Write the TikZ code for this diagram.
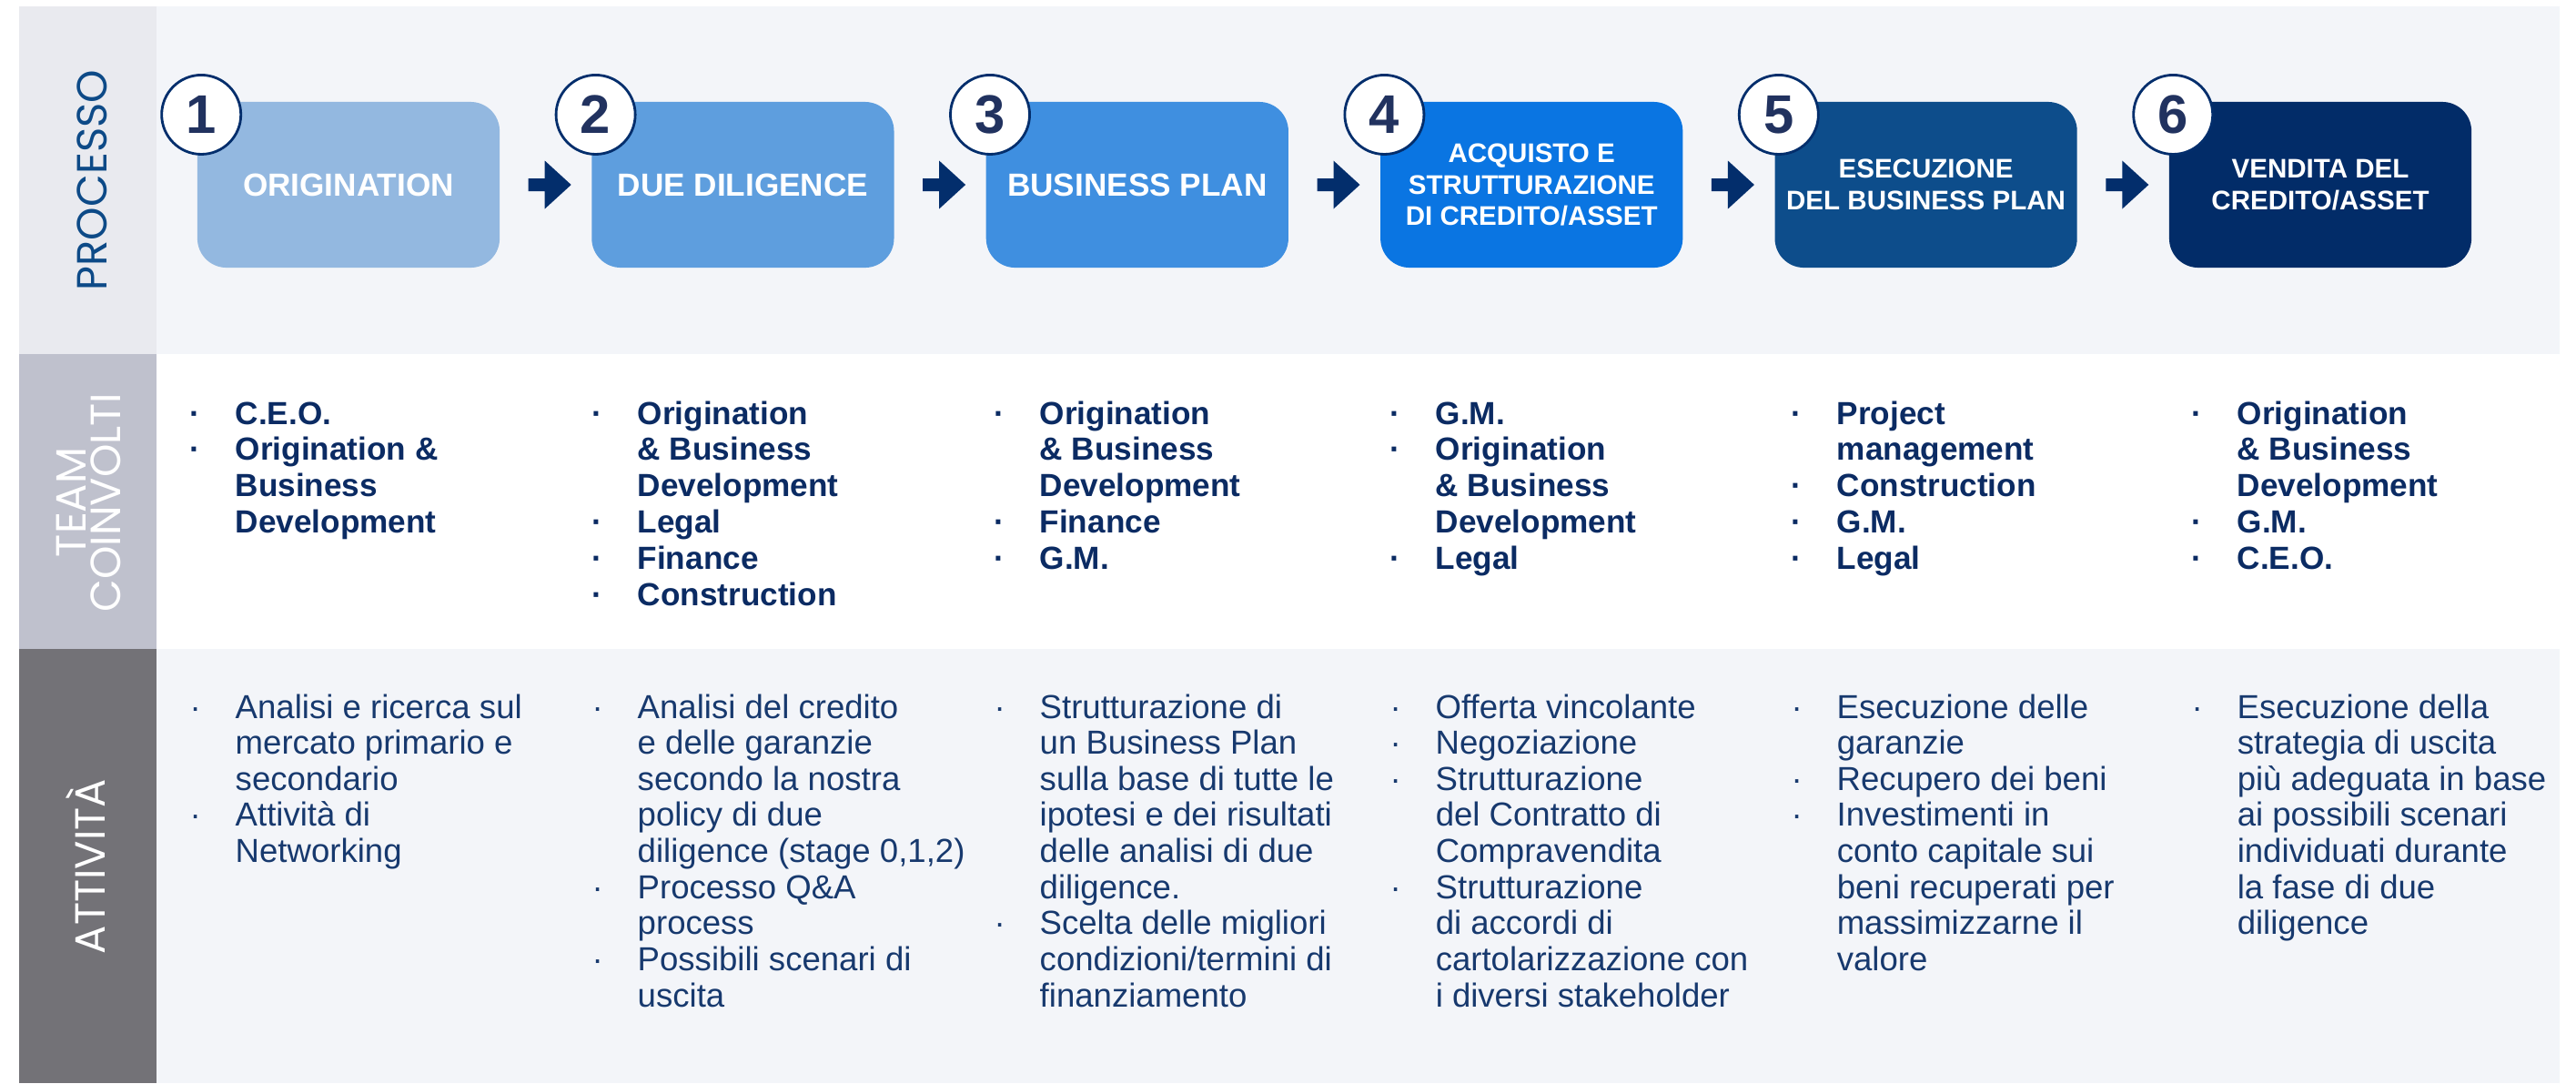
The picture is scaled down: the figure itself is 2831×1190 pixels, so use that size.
\documentclass[tikz,border=0pt]{standalone}
\usepackage{fontspec}
\setmainfont{Liberation Sans}
\newfontfamily\labelfont{Poppins}
\usetikzlibrary{calc}

\definecolor{rowlight}{HTML}{F3F5F9}
\definecolor{labone}{HTML}{E9EAEF}
\definecolor{labtwo}{HTML}{BFC1CD}
\definecolor{labthree}{HTML}{737277}
\definecolor{proctext}{HTML}{0D4A87}
\definecolor{stepA}{HTML}{93B8E0}
\definecolor{stepB}{HTML}{5E9EDE}
\definecolor{stepC}{HTML}{3F8FE0}
\definecolor{stepD}{HTML}{0A75E2}
\definecolor{stepE}{HTML}{0D4D8B}
\definecolor{stepF}{HTML}{022C68}
\definecolor{navy}{HTML}{032E6C}
\definecolor{numtext}{HTML}{21325F}
\definecolor{teamtext}{HTML}{0B2B63}
\definecolor{acttext}{HTML}{17396E}

% bulleted list: a narrow bullet column and a text column
\newenvironment{dotlist}{\begin{tabular}[t]{@{}p{0.5cm}@{}l@{}}}{\end{tabular}}
\newcommand\bl{·}

% block arrow placed midway between two step boxes
\newcommand\flowarrow[2]{%
  \fill[navy] ($(#1.east)!0.5!(#2.west)$) ++(-19,7) -- ++(18,0) -- ++(0,19.5)
    -- ++(29,-26.5) -- ++(-29,-26.5) -- ++(0,19.5) -- ++(-18,0) -- cycle;}

\begin{document}
\begin{tikzpicture}[x=0.01cm, y=-0.01cm,
  stepbox/.style={rounded corners=0.32cm, minimum width=3.32cm, minimum height=1.82cm,
    inner sep=0pt, text=white, align=center,
    font=\bfseries\fontsize{10}{11}\selectfont},
  smallstep/.style={font=\bfseries\fontsize{8.4}{9.85}\selectfont},
  numdisc/.style={circle, fill=white, draw=navy, line width=0.8pt, minimum size=0.87cm,
    inner sep=0pt, text=numtext, font=\bfseries\fontsize{17}{17}\selectfont},
  teamlist/.style={anchor=base west, inner sep=0pt,
    text=teamtext, font=\bfseries\fontsize{10}{11.35}\selectfont},
  actlist/.style={anchor=base west, inner sep=0pt,
    text=acttext, font=\fontsize{10.4}{11.27}\selectfont},
  rowlabel/.style={rotate=90, inner sep=0pt, font=\labelfont\fontsize{13.2}{10.8}\selectfont}]

\useasboundingbox (0,0) rectangle (2831,1190);

% row backgrounds and label column
\fill[labone]   (21,7)    rectangle (172,389);
\fill[rowlight] (172,7)   rectangle (2813,389);
\fill[labtwo]   (21,389)  rectangle (172,713);
\fill[white]    (172,389) rectangle (2813,713);
\fill[labthree] (21,713)  rectangle (172,1190);
\fill[rowlight] (172,713) rectangle (2813,1190);

% row labels
\node[rowlabel, text=proctext, anchor=base] (lproc) at (117,198) {PROCESSO};
\node[rowlabel, text=white, align=center] (lteam) at (97,552) {TEAM\\COINVOLTI};
\node[rowlabel, text=white, anchor=base] (latt) at (115,952) {ATTIVITÀ};

% process steps
\node[stepbox, fill=stepA] (b1) at (383,203)    {ORIGINATION};
\node[stepbox, fill=stepB] (b2) at (816.4,203)  {DUE DILIGENCE};
\node[stepbox, fill=stepC] (b3) at (1249.8,203) {BUSINESS PLAN};
\node[stepbox, smallstep, fill=stepD] (b4) at (1683.2,203) {ACQUISTO E\\STRUTTURAZIONE\\DI CREDITO/ASSET};
\node[stepbox, smallstep, fill=stepE] (b5) at (2116.6,203) {ESECUZIONE\\DEL BUSINESS PLAN};
\node[stepbox, smallstep, fill=stepF] (b6) at (2550,203)   {VENDITA DEL\\CREDITO/ASSET};

% step numbers
\foreach \i in {1,...,6}
  \node[numdisc] (n\i) at ([xshift=0.05cm, yshift=0.77cm]b\i.west) {\i};

% arrows between steps
\flowarrow{b1}{b2}
\flowarrow{b2}{b3}
\flowarrow{b3}{b4}
\flowarrow{b4}{b5}
\flowarrow{b5}{b6}

% teams involved
\node[teamlist] (t1) at (208,466) {\begin{dotlist}
\bl & C.E.O.\\ \bl & Origination \&\\ & Business\\ & Development
\end{dotlist}};
\node[teamlist] (t2) at (650,466) {\begin{dotlist}
\bl & Origination\\ & \& Business\\ & Development\\ \bl & Legal\\ \bl & Finance\\ \bl & Construction
\end{dotlist}};
\node[teamlist] (t3) at (1092,466) {\begin{dotlist}
\bl & Origination\\ & \& Business\\ & Development\\ \bl & Finance\\ \bl & G.M.
\end{dotlist}};
\node[teamlist] (t4) at (1527,466) {\begin{dotlist}
\bl & G.M.\\ \bl & Origination\\ & \& Business\\ & Development\\ \bl & Legal
\end{dotlist}};
\node[teamlist] (t5) at (1968,466) {\begin{dotlist}
\bl & Project\\ & management\\ \bl & Construction\\ \bl & G.M.\\ \bl & Legal
\end{dotlist}};
\node[teamlist] (t6) at (2408,466) {\begin{dotlist}
\bl & Origination\\ & \& Business\\ & Development\\ \bl & G.M.\\ \bl & C.E.O.
\end{dotlist}};

% activities
\node[actlist] (a1) at (208,789) {\begin{dotlist}
\bl & Analisi e ricerca sul\\ & mercato primario e\\ & secondario\\
\bl & Attività di\\ & Networking
\end{dotlist}};
\node[actlist] (a2) at (650,789) {\begin{dotlist}
\bl & Analisi del credito\\ & e delle garanzie\\ & secondo la nostra\\ & policy di due\\ & diligence (stage 0,1,2)\\
\bl & Processo Q\&A\\ & process\\
\bl & Possibili scenari di\\ & uscita
\end{dotlist}};
\node[actlist] (a3) at (1092,789) {\begin{dotlist}
\bl & Strutturazione di\\ & un Business Plan\\ & sulla base di tutte le\\ & ipotesi e dei risultati\\ & delle analisi di due\\ & diligence.\\
\bl & Scelta delle migliori\\ & condizioni/termini di\\ & finanziamento
\end{dotlist}};
\node[actlist] (a4) at (1527,789) {\begin{dotlist}
\bl & Offerta vincolante\\ \bl & Negoziazione\\
\bl & Strutturazione\\ & del Contratto di\\ & Compravendita\\
\bl & Strutturazione\\ & di accordi di\\ & cartolarizzazione con\\ & i diversi stakeholder
\end{dotlist}};
\node[actlist] (a5) at (1968,789) {\begin{dotlist}
\bl & Esecuzione delle\\ & garanzie\\ \bl & Recupero dei beni\\
\bl & Investimenti in\\ & conto capitale sui\\ & beni recuperati per\\ & massimizzarne il\\ & valore
\end{dotlist}};
\node[actlist] (a6) at (2408,789) {\begin{dotlist}
\bl & Esecuzione della\\ & strategia di uscita\\ & più adeguata in base\\ & ai possibili scenari\\ & individuati durante\\ & la fase di due\\ & diligence
\end{dotlist}};

\end{tikzpicture}
\end{document}
